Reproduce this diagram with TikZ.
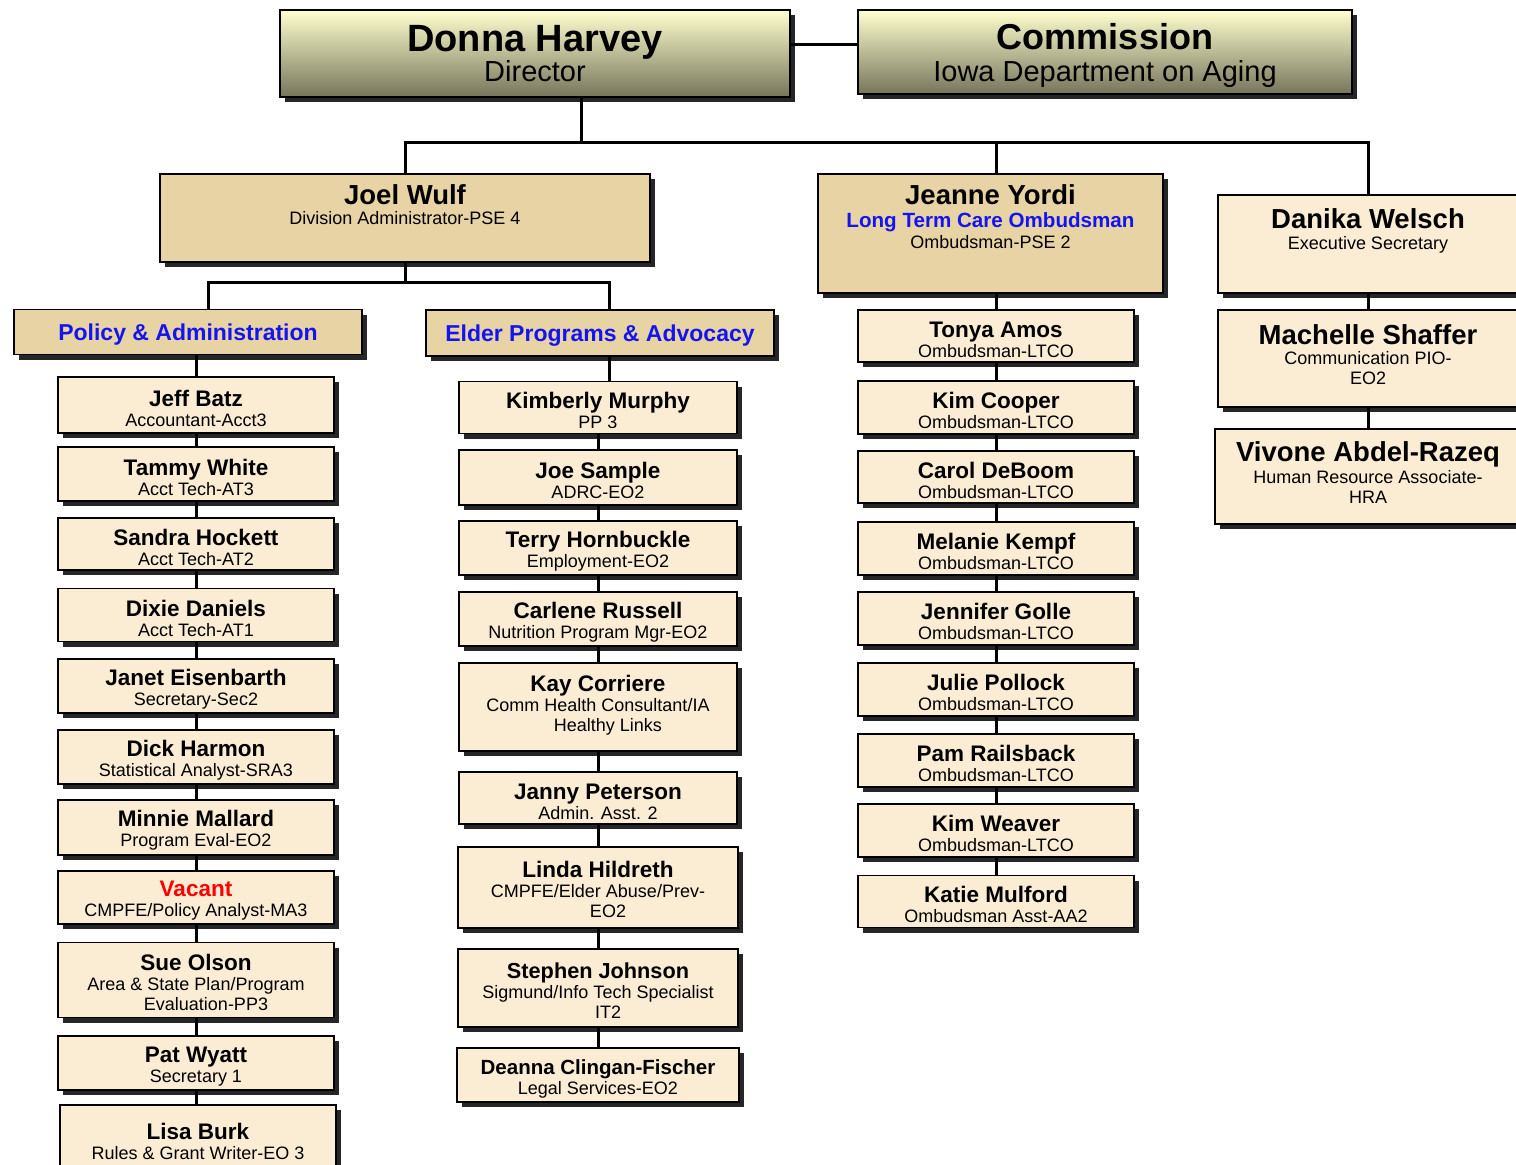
\documentclass[tikz,border=0pt]{standalone}
\usepackage{fontspec}
\setmainfont{Liberation Sans}
\usetikzlibrary{ positioning, % For easy node-relative placements
                 shadows,     % For the drop shadows under the boxes
               }
\definecolor{cream}{HTML}{FBEDD4}
\definecolor{parchment}{HTML}{E8D3A4}
\definecolor{headtop}{HTML}{FFFFCF}
\definecolor{headmid}{HTML}{E2E0B0}
\definecolor{headbot}{HTML}{76755B}
\definecolor{unitblue}{HTML}{1414F0}

\newcommand{\who}[2][22.5]{{\fontsize{#1}{20}\selectfont\bfseries #2}}
\newcommand{\orgunit}[2][23]{{\fontsize{#1}{20}\selectfont\bfseries\color{unitblue}#2}}

\tikzstyle{lowered} = [execute at begin node={\rule{0pt}{#1}}]
\tikzstyle{raised} = [execute at end node={\rule[-#1]{0pt}{#1}}]
\tikzstyle{box} = [rectangle, draw=black, line width=1.5pt, fill=cream, align=center, inner sep=0pt,
                   font=\fontsize{18}{20}\selectfont,
                   drop shadow={shadow xshift=5pt, shadow yshift=-5pt, fill=black!85, opacity=1}]
\tikzstyle{head} = [box, top color=headtop, middle color=headmid, bottom color=headbot, font=\fontsize{29}{30}\selectfont]
\tikzstyle{unit} = [box, fill=parchment]
\tikzstyle{staff} = [box, minimum width=276pt, minimum height=54pt, lowered=42.5pt]
\tikzstyle{boxtext} = [inner sep=0pt, align=center, font=\fontsize{18}{20}\selectfont]
\tikzstyle{link} = [line width=3pt]

\begin{document}
\begin{tikzpicture}[x=1pt, y=-1pt]
  \useasboundingbox (0,0) rectangle (1516,1165);
  \fill[white] (0,0) rectangle (1516,1165);
  \clip (0,0) rectangle (1516,1165);

  % top level
  \node (harvey) [head, minimum width=510pt, minimum height=87pt] at (535,53.5) {\who[38]{Donna Harvey}\\Director};
  \node (commission) [head, minimum width=494pt, minimum height=84pt, lowered=66pt] at (1105,52) {\who[36]{Commission}\\[2pt]Iowa Department on Aging};
  \draw [link] ([yshift=9.5pt]harvey.east) -- ([yshift=9.5pt]harvey.east -| commission.west);

  % second level
  \node (wulf) [unit, minimum width=490pt, minimum height=88pt] at (405,218) {};
  \node (wulf-txt) [boxtext, below=11pt of wulf.north] {\who[27.5]{Joel Wulf}\\Division Administrator-PSE 4};
  \node (yordi) [unit, minimum width=345pt, minimum height=119pt] at (990.5,233.5) {};
  \node (yordi-txt) [boxtext, below=11pt of yordi.north] {\who[27.5]{Jeanne Yordi}\\[3pt]\orgunit[20.6]{Long Term Care Ombudsman}\\[1pt]Ombudsman-PSE 2};
  \node (welsch) [box, minimum width=300pt, minimum height=98pt] at (1368,244) {};
  \node (welsch-txt) [boxtext, below=14pt of welsch.north] {\who[27.5]{Danika Welsch}\\[1pt]Executive Secretary};
  \node (shaffer) [box, minimum width=300pt, minimum height=97pt, raised=7pt] at (1368,358.5) {\who[27.5]{Machelle Shaffer}\\Communication PIO-\\EO2};
  \node (abdelrazeq) [box, minimum width=306pt, minimum height=95pt, raised=7pt] at (1368,476.5) {\who[27.5]{Vivone Abdel-Razeq}\\[2pt]Human Resource Associate-\\HRA};

  \coordinate (top bus) at (581,142);
  \draw [link] (top bus |- harvey.south) -- (top bus);
  \draw [link] (wulf.north) |- (top bus) -| (welsch.north);
  \draw [link] (welsch.south) -- (shaffer.north) (shaffer.south) -- (abdelrazeq.north);

  % divisions under Joel Wulf
  \node (policy) [unit, minimum width=348pt, minimum height=45pt, lowered=21pt] at (188,332) {\orgunit{Policy \& Administration}};
  \node (elder) [unit, minimum width=348pt, minimum height=46pt, lowered=21pt] at (600,333) {\orgunit{Elder Programs \& Advocacy}};
  \coordinate (wulf bus) at (405,282);
  \draw [link] (wulf.south) -- (wulf bus);
  \draw [link] ([xshift=20pt]policy.north) |- (wulf bus) -| ([xshift=9pt]elder.north);

  % Policy & Administration
  \node (batz) [staff, minimum height=56pt] at (196,405) {\who{Jeff Batz}\\Accountant-Acct3};
  \node (white) [staff] at (196,474) {\who{Tammy White}\\Acct Tech-AT3};
  \node (hockett) [staff, minimum height=52pt] at (196,544) {\who{Sandra Hockett}\\Acct Tech-AT2};
  \node (daniels) [staff, minimum height=53pt] at (196,615) {\who{Dixie Daniels}\\Acct Tech-AT1};
  \node (eisenbarth) [staff] at (196,686) {\who{Janet Eisenbarth}\\Secretary-Sec2};
  \node (harmon) [staff] at (196,757) {\who{Dick Harmon}\\Statistical Analyst-SRA3};
  \node (mallard) [staff, minimum height=55pt] at (196,827.5) {\who{Minnie Mallard}\\Program Eval-EO2};
  \node (vacant) [staff, minimum height=53pt] at (196,897.5) {\who{\textcolor{red}{Vacant}}\\CMPFE/Policy Analyst-MA3};
  \node (olson) [staff, minimum height=75pt, lowered=60.5pt] at (196,980) {\who{Sue Olson}\\Area \& State Plan/Program\\\hspace*{20pt}Evaluation-PP3};
  \node (wyatt) [staff] at (196,1063) {\who{Pat Wyatt}\\Secretary 1};
  \node (burk) [staff, minimum height=66pt] at (198,1138) {\who{Lisa Burk}\\Rules \& Grant Writer-EO 3};
  \draw [link] (policy.south -| batz.north) -- (batz.north);
  \draw [link] (batz.south) -- (white.north) (white.south) -- (hockett.north)
               (hockett.south) -- (daniels.north) (daniels.south) -- (eisenbarth.north)
               (eisenbarth.south) -- (harmon.north) (harmon.south) -- (mallard.north)
               (mallard.south) -- (vacant.north) (vacant.south) -- (olson.north)
               (olson.south) -- (wyatt.north) (wyatt.south) -- (wyatt.south |- burk.north);

  % Elder Programs & Advocacy
  \node (murphy) [staff, minimum width=278pt, minimum height=52pt] at (598,407.5) {\who{Kimberly Murphy}\\PP 3};
  \node (sample) [staff, minimum width=278pt, minimum height=55pt] at (598,477.5) {\who{Joe Sample}\\ADRC-EO2};
  \node (hornbuckle) [staff, minimum width=278pt] at (598,548) {\who{Terry Hornbuckle}\\Employment-EO2};
  \node (russell) [staff, minimum width=278pt] at (598,619) {\who{Carlene Russell}\\Nutrition Program Mgr-EO2};
  \node (corriere) [staff, minimum width=278pt, minimum height=88pt, lowered=0pt, raised=8pt] at (598,707) {\who{Kay Corriere}\\Comm Health Consultant/IA\\\hspace*{20pt}Healthy Links};
  \node (peterson) [staff, minimum width=278pt, minimum height=52pt] at (598,798) {\who{Janny Peterson}\\Admin. Asst. 2};
  \node (hildreth) [staff, minimum width=280pt, minimum height=81pt, lowered=60.5pt] at (598,887.5) {\who{Linda Hildreth}\\CMPFE/Elder Abuse/Prev-\\\hspace*{20pt}EO2};
  \node (johnson) [staff, minimum width=280pt, minimum height=78pt, lowered=60.5pt] at (598,988) {\who[21.7]{Stephen Johnson}\\Sigmund/Info Tech Specialist\\\hspace*{20pt}IT2};
  \node (clingan) [staff, minimum width=282pt] at (598,1075) {\who[20.5]{Deanna Clingan-Fischer}\\Legal Services-EO2};
  \draw [link] ([xshift=9pt]elder.south) -- ([xshift=9pt]elder.south |- murphy.north);
  \draw [link] (murphy.south) -- (sample.north) (sample.south) -- (hornbuckle.north)
               (hornbuckle.south) -- (russell.north) (russell.south) -- (corriere.north)
               (corriere.south) -- (peterson.north) (peterson.south) -- (hildreth.north)
               (hildreth.south) -- (johnson.north) (johnson.south) -- (clingan.north);

  % Long Term Care Ombudsman
  \node (amos) [staff, minimum height=52pt] at (996,336) {\who{Tonya Amos}\\Ombudsman-LTCO};
  \node (cooper) [staff, minimum height=53pt] at (996,407.5) {\who{Kim Cooper}\\Ombudsman-LTCO};
  \node (deboom) [staff, minimum height=52pt] at (996,477) {\who{Carol DeBoom}\\Ombudsman-LTCO};
  \node (kempf) [staff, minimum height=53pt] at (996,548.5) {\who{Melanie Kempf}\\Ombudsman-LTCO};
  \node (golle) [staff, minimum height=53pt] at (996,618.5) {\who{Jennifer Golle}\\Ombudsman-LTCO};
  \node (pollock) [staff, minimum height=53pt] at (996,689.5) {\who{Julie Pollock}\\Ombudsman-LTCO};
  \node (railsback) [staff, minimum height=53pt] at (996,760.5) {\who{Pam Railsback}\\Ombudsman-LTCO};
  \node (weaver) [staff, minimum height=53pt] at (996,830.5) {\who{Kim Weaver}\\Ombudsman-LTCO};
  \node (mulford) [staff, minimum height=52pt] at (996,901.5) {\who{Katie Mulford}\\Ombudsman Asst-AA2};
  \draw [link] (yordi.north -| amos.north) -- (top bus -| amos.north);
  \draw [link] (yordi.south -| amos.north) -- (amos.north);
  \draw [link] (amos.south) -- (cooper.north) (cooper.south) -- (deboom.north)
               (deboom.south) -- (kempf.north) (kempf.south) -- (golle.north)
               (golle.south) -- (pollock.north) (pollock.south) -- (railsback.north)
               (railsback.south) -- (weaver.north) (weaver.south) -- (mulford.north);
\end{tikzpicture}
\end{document}
